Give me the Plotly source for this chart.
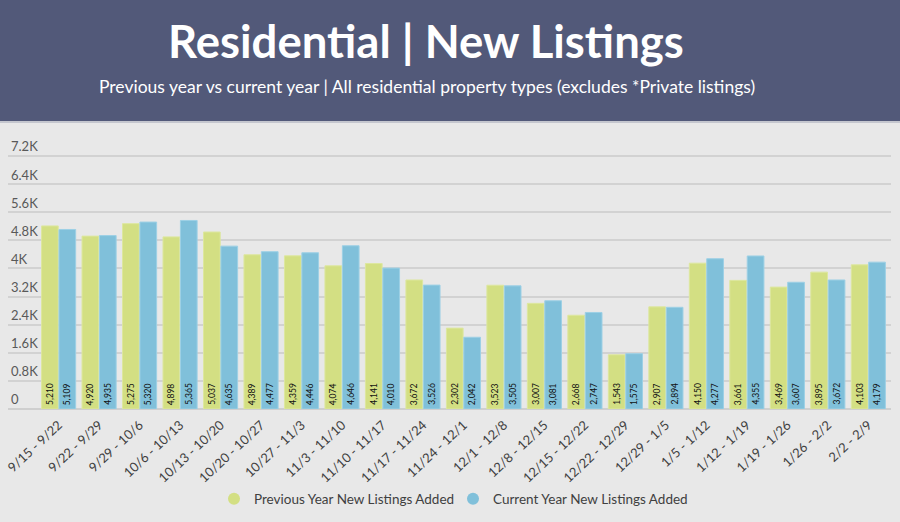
import plotly.graph_objects as go

weeks = ["9/15 - 9/22", "9/22 - 9/29", "9/29 - 10/6", "10/6 - 10/13", "10/13 - 10/20",
         "10/20 - 10/27", "10/27 - 11/3", "11/3 - 11/10", "11/10 - 11/17", "11/17 - 11/24",
         "11/24 - 12/1", "12/1 - 12/8", "12/8 - 12/15", "12/15 - 12/22", "12/22 - 12/29",
         "12/29 - 1/5", "1/5 - 1/12", "1/12 - 1/19", "1/19 - 1/26", "1/26 - 2/2", "2/2 - 2/9"]
previous_year = [5210, 4920, 5275, 4898, 5037, 4389, 4359, 4074, 4141, 3672, 2302,
                 3523, 3007, 2668, 1543, 2907, 4150, 3661, 3469, 3895, 4103]
current_year = [5109, 4935, 5320, 5365, 4635, 4477, 4446, 4646, 4010, 3526, 2042,
                3505, 3081, 2747, 1575, 2894, 4277, 4355, 3607, 3672, 4179]
y_tick_vals = [0, 800, 1600, 2400, 3200, 4000, 4800, 5600, 6400, 7200]
y_tick_text = ["0", "0.8K", "1.6K", "2.4K", "3.2K", "4K", "4.8K", "5.6K", "6.4K", "7.2K"]

GREEN = "#D3DF83"
BLUE = "#80C0DA"
FONT = "Lato"

W, H = 900, 522
T, B = 125, 113          # plot area margins (px)
ZERO_PX = H - B          # pixel row of the zero line
PLOT_H = ZERO_PX - T
PX_PER_UNIT = 253 / 7200  # vertical scale (px per listing)
Y_MAX = PLOT_H / PX_PER_UNIT


def py(pixel_row):
    """Convert a pixel row of the figure to paper y."""
    return (ZERO_PX - pixel_row) / PLOT_H


def px(pixel_col):
    return (pixel_col - 8) / (W - 8 - 9)


fig = go.Figure()
series = [
    ("Previous Year New Listings Added", previous_year, GREEN, "#DDE79F", -8.7),
    ("Current Year New Listings Added", current_year, BLUE, "#9DD0E5", 8.7),
]
annotations = []
for name, vals, col, edge, shift in series:
    fig.add_trace(go.Bar(
        x=weeks, y=vals, name=name, showlegend=False,
        marker=dict(color=col, line=dict(color=edge, width=1)),
        hoverinfo="x+y",
    ))
    fig.add_trace(go.Scatter(
        x=[None], y=[None], mode="markers", name=name,
        marker=dict(color=col, size=15, symbol="circle"),
    ))
    for wk, v in zip(weeks, vals):
        annotations.append(dict(
            x=wk, y=0, xref="x", yref="y", text=f"{v:,}", textangle=-90,
            xanchor="center", yanchor="bottom", xshift=shift, yshift=2,
            showarrow=False, font=dict(size=8.5, color="#111111", family=FONT),
        ))

annotations += [
    dict(text="<b>Residential | New Listings</b>", xref="paper", yref="paper",
         x=px(426), y=py(40), xanchor="center", yanchor="middle",
         showarrow=False, font=dict(size=45.5, color="white", family=FONT)),
    dict(text="Previous year vs current year | All residential property types (excludes *Private listings)",
         xref="paper", yref="paper", x=px(427), y=py(86),
         xanchor="center", yanchor="middle", showarrow=False,
         font=dict(size=17.5, color="white", family=FONT)),
]

fig.update_layout(
    width=W, height=H,
    margin=dict(l=8, r=9, t=T, b=B, autoexpand=False),
    paper_bgcolor="#E8E8E8", plot_bgcolor="#E8E8E8",
    barmode="group", bargap=0.14, bargroupgap=0.04,
    font=dict(family=FONT, color="#404040"),
    legend=dict(orientation="h", x=px(453), xanchor="center", yref="container",
                y=1 - 499 / H, yanchor="middle", font=dict(size=13.5, color="#404040"),
                itemsizing="constant", bgcolor="rgba(0,0,0,0)",
                entrywidth=194, entrywidthmode="pixels"),
    xaxis=dict(range=[-1.25, 20.56], tickangle=-43, tickfont=dict(size=13, color="#404040"),
               showgrid=False, ticks="", showline=False, zeroline=False, automargin=False,
               ticklabelstandoff=5),
    yaxis=dict(range=[0, Y_MAX], tickvals=y_tick_vals, ticktext=y_tick_text,
               ticklabelposition="inside top", tickfont=dict(size=13, color="#595959"),
               showgrid=True, gridcolor="#D2D2D2", gridwidth=1.5, automargin=False,
               zeroline=True, zerolinecolor="#CFCFCF", zerolinewidth=2),
    shapes=[
        dict(type="rect", xref="paper", yref="paper", x0=-0.1, x1=1.1, y0=py(121), y1=py(-5),
             fillcolor="#525979", line=dict(width=0), layer="above"),
        dict(type="line", xref="paper", yref="paper", x0=-0.1, x1=1.1, y0=py(122), y1=py(122),
             line=dict(color="#B9BBC6", width=1.5)),
    ],
    annotations=annotations,
)

fig.write_html("out.html")
